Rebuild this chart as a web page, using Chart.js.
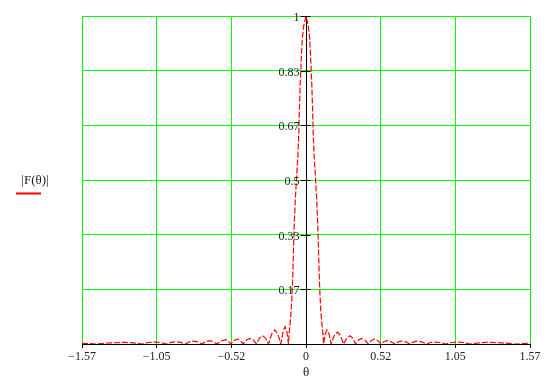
<!DOCTYPE html>
<html>
<head>
<meta charset="utf-8">
<script src="https://cdn.jsdelivr.net/npm/chart.js@4"></script>
<style>
  html, body { margin: 0; padding: 0; background: #fff; }
  #wrap { width: 556px; height: 380px; }
</style>
</head>
<body>
<div id="wrap"><canvas id="afChart"></canvas></div>
<script>
// theta (rad) and |F(theta)|
const theta = [
  -1.571, -1.47, -1.37, -1.27, -1.21, -1.15, -1.105, -1.06, -1.02, -0.98,
  -0.945, -0.91, -0.878, -0.846, -0.818, -0.79, -0.76, -0.73, -0.703, -0.675,
  -0.65, -0.625, -0.595, -0.565, -0.546, -0.527, -0.505, -0.482, -0.461, -0.44,
  -0.417, -0.393, -0.37, -0.347, -0.326, -0.305, -0.284, -0.263, -0.24, -0.218,
  -0.197, -0.177, -0.161, -0.147, -0.134, -0.123,
  -0.119, -0.112, -0.104, -0.097, -0.092, -0.087, -0.082, -0.075, -0.066, -0.056,
  -0.050, -0.046, -0.040, -0.033, -0.026, -0.016, 0,
  0.016, 0.026, 0.033, 0.040, 0.046, 0.050, 0.056, 0.066, 0.075, 0.082,
  0.087, 0.092, 0.097, 0.104, 0.112, 0.119,
  0.123, 0.135, 0.147, 0.161, 0.176, 0.198, 0.221, 0.242, 0.263, 0.286,
  0.309, 0.328, 0.347, 0.368, 0.389, 0.413, 0.437, 0.458, 0.48, 0.503,
  0.525, 0.546, 0.567, 0.596, 0.625, 0.648, 0.67, 0.70, 0.73, 0.755,
  0.78, 0.81, 0.846, 0.87, 0.895, 0.94, 0.98, 1.02, 1.06, 1.105,
  1.15, 1.21, 1.27, 1.37, 1.47, 1.571
];
const F = [
  0.002, 0, 0.0035, 0.005, 0.0035, 0, 0.0045, 0.006, 0.0045, 0,
  0.005, 0.007, 0.005, 0, 0.0065, 0.009, 0.0065, 0, 0.007, 0.010,
  0.007, 0, 0.009, 0.013, 0.009, 0, 0.011, 0.015, 0.011, 0,
  0.012, 0.017, 0.012, 0, 0.018, 0.025, 0.018, 0, 0.031, 0.043,
  0.031, 0, 0.038, 0.053, 0.037, 0,
  0.03, 0.06, 0.10, 0.16, 0.22, 0.30, 0.37, 0.44, 0.51, 0.58,
  0.65, 0.72, 0.80, 0.87, 0.93, 0.97, 1,
  0.97, 0.93, 0.87, 0.80, 0.72, 0.65, 0.58, 0.51, 0.44, 0.37,
  0.30, 0.22, 0.16, 0.10, 0.06, 0.03,
  0, 0.031, 0.043, 0.031, 0, 0.026, 0.036, 0.026, 0, 0.018,
  0.025, 0.018, 0, 0.012, 0.017, 0.012, 0, 0.011, 0.015, 0.011,
  0, 0.007, 0.010, 0.007, 0, 0.0065, 0.009, 0.0065, 0, 0.0065,
  0.009, 0.0065, 0, 0.0045, 0.006, 0.0045, 0, 0.0045, 0.006, 0.0045,
  0, 0.0035, 0.005, 0.0035, 0, 0.002
];

const xTickValues = [-1.5708, -1.0472, -0.5236, 0, 0.5236, 1.0472, 1.5708];
const xTickLabels = ['\u22121.57', '\u22121.05', '\u22120.52', '0', '0.52', '1.05', '1.57'];
const yTickValues = [1 / 6, 2 / 6, 3 / 6, 4 / 6, 5 / 6, 1];
const yTickLabels = ['0.17', '0.33', '0.5', '0.67', '0.83', '1'];

const serif = "'Liberation Serif', 'DejaVu Serif', serif";

// y tick labels sit on the theta = 0 line, plus the side label "|F(θ)|"
const axisText = {
    id: 'axisText',
    afterDraw(chart) {
        const ctx = chart.ctx;
        const xs = chart.scales.x, ys = chart.scales.y;
        const x0 = Math.round(xs.getPixelForValue(0)) + 0.5;
        ctx.save();
        ctx.strokeStyle = '#000';
        ctx.lineWidth = 1;
        ctx.fillStyle = '#222';
        ctx.font = '12px ' + serif;
        ctx.textAlign = 'right';
        ctx.textBaseline = 'middle';
        yTickValues.forEach((v, i) => {
            const y = Math.round(ys.getPixelForValue(v)) + 0.5;
            ctx.beginPath();
            ctx.moveTo(x0 - 6, y);
            ctx.lineTo(x0 + 4, y);
            ctx.stroke();
            ctx.fillText(yTickLabels[i], x0 - 7, y + 1);
        });
        ctx.font = '13px ' + serif;
        ctx.textAlign = 'center';
        ctx.fillText('|F(\u03b8)|', 35, 181);
        ctx.strokeStyle = '#ff0000';
        ctx.lineWidth = 2;
        ctx.beginPath();
        ctx.moveTo(16, 193.5);
        ctx.lineTo(41, 193.5);
        ctx.stroke();
        ctx.restore();
    }
};

const ctx = document.getElementById('afChart').getContext('2d');
new Chart(ctx, {
    type: 'line',
    data: {
        datasets: [{
            data: theta.map((t, i) => ({ x: t, y: F[i] })),
            borderColor: '#ff0000',
            borderWidth: 1.2,
            borderDash: [6, 2],
            pointRadius: 0,
            tension: 0
        }]
    },
    options: {
        responsive: true,
        maintainAspectRatio: false,
        animation: false,
        layout: { padding: { left: 82, right: 26, top: 16, bottom: 0 } },
        scales: {
            x: {
                type: 'linear',
                min: -1.5708,
                max: 1.5708,
                afterBuildTicks: s => { s.ticks = xTickValues.map(v => ({ value: v })); },
                afterFit: s => { s.height = 36; },
                ticks: {
                    autoSkip: false,
                    maxRotation: 0,
                    padding: 2,
                    color: '#222',
                    font: { family: serif, size: 12 },
                    callback: (v, i) => xTickLabels[i]
                },
                grid: {
                    color: c => (c.tick && c.tick.value === 0) ? 'rgba(0,0,0,0)' : '#00ff00',
                    lineWidth: 1,
                    tickColor: '#000',
                    tickLength: 4
                },
                border: { color: '#000', width: 1 },
                title: {
                    display: true,
                    text: '\u03b8',
                    color: '#222',
                    font: { family: serif, size: 13 },
                    padding: 0
                }
            },
            y: {
                type: 'linear',
                min: 0,
                max: 1,
                position: { x: 0 },
                afterBuildTicks: s => { s.ticks = [0].concat(yTickValues).map(v => ({ value: v })); },
                afterFit: s => { s.width = 0; },
                ticks: { display: false },
                grid: {
                    color: c => (c.tick && c.tick.value === 0) ? 'rgba(0,0,0,0)' : '#00ff00',
                    lineWidth: 1,
                    drawTicks: false
                },
                border: { color: '#000', width: 1 }
            }
        },
        plugins: {
            legend: { display: false },
            tooltip: { enabled: false }
        }
    },
    plugins: [axisText]
});
</script>
</body>
</html>
